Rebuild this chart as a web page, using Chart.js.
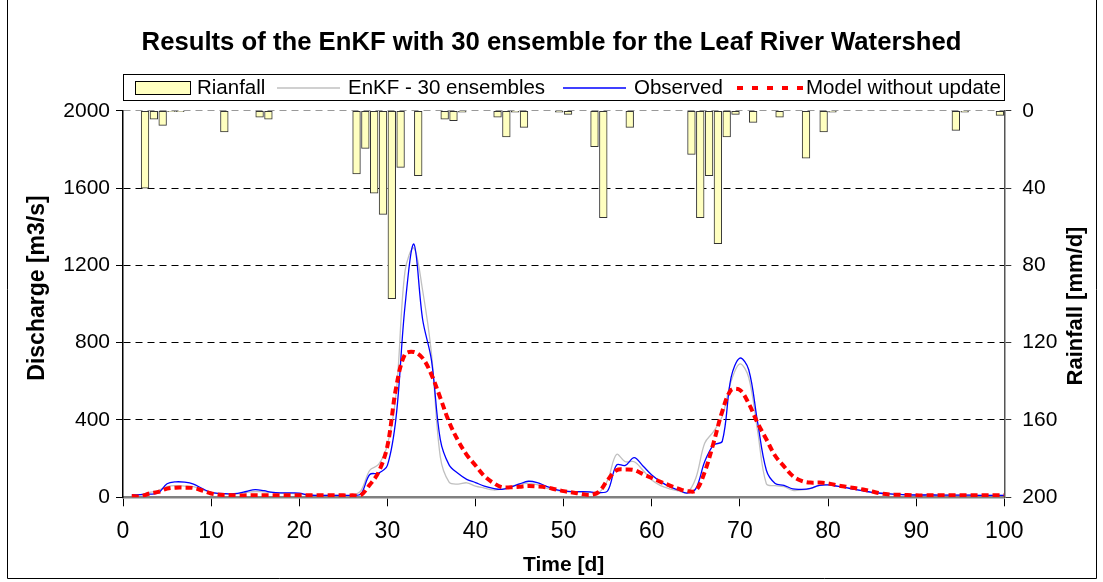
<!DOCTYPE html>
<html>
<head>
<meta charset="utf-8">
<title>EnKF - Leaf River</title>
<script src="https://cdn.jsdelivr.net/npm/chart.js@4.4.1/dist/chart.umd.min.js"></script>
<style>
  html, body { margin: 0; padding: 0; background: #fff; }
  #wrap { width: 1103px; height: 582px; position: relative; }
</style>
</head>
<body>
<div id="wrap"><canvas id="enkfChart"></canvas></div>
<script>
// --- Data (day 1..100) ---
const days = Array.from({ length: 100 }, (_, i) => i + 1);

const rainfall = [
  0, 0, 40, 4.3, 7.6, 0.5, 0.5, 0, 0, 0,
  0, 11, 0, 0, 0, 3.3, 4.3, 0, 0, 0,
  0, 0, 0, 0, 0, 0, 32.7, 19.5, 42.7, 53.6,
  97.2, 29.3, 0, 33.6, 0, 0, 4.3, 5.2, 0.8, 0,
  0, 0, 3.3, 13.6, 0.8, 8.6, 0, 0, 0, 0.8,
  1.9, 0, 0, 18.6, 55.3, 0, 0, 8.6, 0, 0,
  0, 0, 0, 0, 22.6, 55.3, 33.6, 68.8, 13.6, 1.9,
  0, 6, 0, 0, 3.3, 0, 0, 24.5, 0, 11,
  0.8, 0, 0, 0, 0, 0, 0, 0, 0, 0,
  0, 0, 0, 0, 10.2, 0.8, 0, 0, 0, 2.4
];

const observed = [
  12, 14, 16, 22, 70, 80, 78, 68, 45, 25,
  20, 18, 20, 30, 40, 34, 25, 23, 23, 22,
  12, 10, 10, 10, 10, 10, 18, 118, 125, 165,
  420, 990, 1310, 920, 710, 300, 168, 124, 93, 76,
  58, 46, 41, 52, 69, 83, 76, 58, 41, 33,
  29, 29, 28, 24, 34, 167, 165, 205, 162, 115,
  81, 55, 38, 22, 45, 184, 270, 290, 620, 720,
  660, 390, 140, 72, 62, 43, 41, 46, 62, 64,
  58, 50, 41, 33, 26, 21, 18, 15, 13, 12,
  12, 12, 11, 11, 11, 11, 10, 10, 10, 10
];

const enkf30 = [
  10, 14, 25, 35, 55, 60, 58, 55, 40, 25,
  18, 16, 18, 25, 30, 28, 25, 22, 20, 18,
  12, 10, 10, 10, 10, 10, 35, 140, 170, 270,
  540, 1170, 1290, 1070, 745, 210, 78, 68, 75, 58,
  48, 38, 42, 55, 68, 72, 65, 48, 38, 30,
  28, 27, 25, 25, 90, 222, 184, 184, 140, 89,
  60, 44, 33, 24, 100, 280, 340, 420, 600, 690,
  620, 345, 70, 60, 55, 36, 38, 45, 60, 64,
  58, 50, 42, 33, 26, 21, 18, 15, 13, 12,
  12, 12, 11, 11, 11, 11, 10, 10, 10, 10
];

const modelNoUpdate = [
  7, 5, 20, 28, 45, 50, 50, 48, 35, 20,
  13, 12, 10, 10, 10, 10, 10, 10, 10, 10,
  10, 10, 10, 10, 10, 10, 12, 65, 130, 265,
  570, 740, 752, 720, 635, 515, 390, 295, 220, 165,
  110, 75, 52, 52, 55, 58, 56, 52, 42, 32,
  25, 18, 12, 28, 90, 140, 144, 141, 120, 100,
  80, 62, 45, 32, 35, 130, 280, 445, 555, 555,
  485, 385, 300, 215, 160, 110, 85, 76, 76, 72,
  62, 55, 48, 40, 30, 20, 15, 13, 12, 10,
  10, 10, 10, 10, 10, 10, 10, 10, 10, 10
];

const timeTicks = [0, 10, 20, 30, 40, 50, 60, 70, 80, 90, 100];
const dischargeTicks = [0, 400, 800, 1200, 1600, 2000];
const rainTicks = [0, 40, 80, 120, 160, 200];

const FONT = "'Liberation Sans', Arial, sans-serif";
Chart.defaults.font.family = FONT;
Chart.defaults.color = '#000';

// vertical title, reads bottom to top
function drawVTitle(ctx, text, x, y, size) {
  ctx.save();
  ctx.translate(x, y);
  ctx.rotate(-Math.PI / 2);
  ctx.font = 'bold ' + size + 'px ' + FONT;
  ctx.fillStyle = '#000';
  ctx.textAlign = 'center';
  ctx.textBaseline = 'middle';
  ctx.fillText(text, 0, 0);
  ctx.restore();
}

// --- legend box, axis titles, outer frame (Excel style) ---
const frameLegend = {
  id: 'frameLegend',
  afterDraw(chart) {
    const ctx = chart.ctx;
    ctx.save();

    // outer frame
    ctx.strokeStyle = '#000';
    ctx.lineWidth = 1;
    ctx.beginPath();
    ctx.moveTo(7.5, 0); ctx.lineTo(7.5, 578.5);
    ctx.lineTo(1096.5, 578.5); ctx.lineTo(1096.5, 0);
    ctx.stroke();

    drawVTitle(ctx, 'Discharge [m3/s]', 37.5, 288, 23);
    drawVTitle(ctx, 'Rainfall [mm/d]', 1075.5, 306, 22);

    // legend box
    ctx.fillStyle = '#fff';
    ctx.fillRect(123.5, 74.5, 881, 26);
    ctx.strokeRect(123.5, 74.5, 881, 26);

    const cy = 88;
    ctx.font = '20.5px ' + FONT;
    ctx.textBaseline = 'middle';
    ctx.textAlign = 'left';

    // Rianfall
    ctx.fillStyle = '#FFFFC0';
    ctx.fillRect(135.5, 81.5, 55, 13);
    ctx.strokeStyle = '#000';
    ctx.strokeRect(135.5, 81.5, 55, 13);
    ctx.fillStyle = '#000';
    ctx.fillText('Rianfall', 197, cy);

    // EnKF
    ctx.strokeStyle = '#C0C0C0';
    ctx.lineWidth = 1.3;
    ctx.beginPath(); ctx.moveTo(277, cy); ctx.lineTo(340, cy); ctx.stroke();
    ctx.fillText('EnKF - 30 ensembles', 348, cy);

    // Observed
    ctx.strokeStyle = '#0000FF';
    ctx.beginPath(); ctx.moveTo(563, cy); ctx.lineTo(626, cy); ctx.stroke();
    ctx.fillText('Observed', 634, cy);

    // Model without update
    ctx.strokeStyle = '#FF0000';
    ctx.lineWidth = 4;
    ctx.setLineDash([6, 9]);
    ctx.beginPath(); ctx.moveTo(737, cy); ctx.lineTo(803, cy); ctx.stroke();
    ctx.setLineDash([]);
    ctx.fillText('Model without update', 806, cy);

    ctx.restore();
  }
};

const ctx = document.getElementById('enkfChart').getContext('2d');

new Chart(ctx, {
  type: 'line',
  data: {
    datasets: [
      {
        type: 'bar',
        label: 'Rianfall',
        data: rainfall.map((v, i) => ({ x: days[i] - 0.5, y: v })),
        xAxisID: 'x',
        yAxisID: 'y1',
        backgroundColor: '#FFFFC0',
        borderColor: '#333',
        borderWidth: 1,
        borderSkipped: false,
        barThickness: 7.7,
        order: 4
      },
      {
        label: 'EnKF - 30 ensembles',
        data: enkf30.map((v, i) => ({ x: days[i], y: v })),
        yAxisID: 'y',
        borderColor: '#C0C0C0',
        borderWidth: 1.3,
        pointRadius: 0,
        tension: 0.35,
        order: 3
      },
      {
        label: 'Observed',
        data: observed.map((v, i) => ({ x: days[i], y: v })),
        yAxisID: 'y',
        borderColor: '#0000FF',
        borderWidth: 1.3,
        pointRadius: 0,
        tension: 0.35,
        order: 2
      },
      {
        label: 'Model without update',
        data: modelNoUpdate.map((v, i) => ({ x: days[i], y: v })),
        yAxisID: 'y',
        borderColor: '#FF0000',
        borderWidth: 4,
        borderDash: [7, 4],
        pointRadius: 0,
        tension: 0.35,
        order: 1
      }
    ]
  },
  options: {
    responsive: true,
    maintainAspectRatio: false,
    animation: false,
    layout: { padding: 0 },
    plugins: {
      legend: { display: false },
      tooltip: { enabled: false },
      title: {
        display: true,
        text: 'Results of the EnKF with 30 ensemble for the Leaf River Watershed',
        font: { size: 25.7, weight: 'bold' },
        color: '#000',
        padding: { top: 27.6, bottom: 52.3 }
      }
    },
    scales: {
      x: {
        type: 'linear',
        min: 0,
        max: 100,
        offset: false,
        afterBuildTicks: s => { s.ticks = timeTicks.map(v => ({ value: v })); },
        afterFit: s => { s.height = 84.7; },
        grid: { offset: false, drawOnChartArea: false, tickLength: 9, tickColor: '#000' },
        border: { color: '#808080', width: 2.5 },
        ticks: { font: { size: 23 }, padding: 12, color: '#000', maxRotation: 0,
                 callback: v => String(v) },
        title: {
          display: true,
          text: 'Time [d]',
          font: { size: 21, weight: 'bold' },
          padding: { top: 0, bottom: 4 }
        }
      },
      y: {
        position: 'left',
        min: 0,
        max: 2000,
        afterBuildTicks: s => { s.ticks = dischargeTicks.map(v => ({ value: v })); },
        afterFit: s => { s.width = 123; },
        grid: {
          color: c => c.tick && c.tick.value === 0 ? 'rgba(0,0,0,0)'
            : (c.tick && c.tick.value === 2000 ? '#999' : '#000'),
          tickColor: '#000',
          tickLength: 7,
          tickBorderDash: []
        },
        border: { color: '#000', width: 1.5, dash: [7, 5] },
        ticks: { font: { size: 21 }, padding: 6, color: '#000', callback: v => String(v) },
        title: { display: false }
      },
      y1: {
        position: 'right',
        min: 0,
        max: 200,
        reverse: true,
        afterBuildTicks: s => { s.ticks = rainTicks.map(v => ({ value: v })); },
        afterFit: s => { s.width = 98.7; },
        grid: { drawOnChartArea: false, tickLength: 7, tickColor: '#333' },
        border: { color: '#555', width: 1.5 },
        ticks: { font: { size: 21 }, padding: 11, color: '#000', callback: v => String(v) },
        title: { display: false }
      }
    }
  },
  plugins: [frameLegend]
});
</script>
</body>
</html>
